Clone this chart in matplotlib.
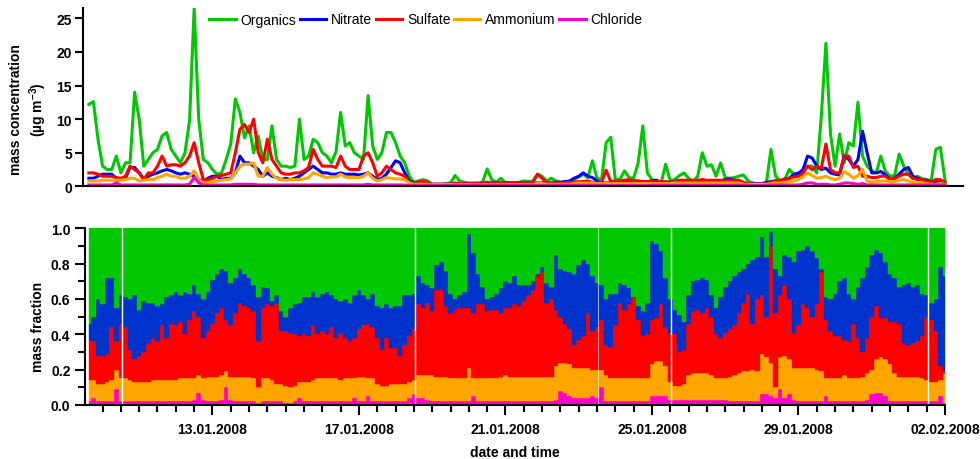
import numpy as np
import pandas as pd
import matplotlib
matplotlib.use("Agg")
import matplotlib.pyplot as plt
import matplotlib.dates as mdates
from matplotlib.ticker import MultipleLocator, FormatStrFormatter

plt.rcParams['font.family'] = ['Liberation Sans', 'DejaVu Sans']
plt.rcParams['font.weight'] = 'bold'
plt.rcParams['mathtext.default'] = 'regular'

# 3-hourly averages, first value 09.01.2008 15:00, last 02.02.2008 00:00
start = '2008-01-09 15:00'

# mass concentrations (ug/m3)
organics = [
    12.2, 12.6, 7.0, 3.0, 2.5, 2.5, 4.5, 2.0, 3.5, 3.5,
    14.0, 10.0, 3.0, 4.0, 5.0, 5.5, 7.5, 8.0, 5.5, 4.5,
    3.5, 5.0, 9.8, 26.5, 10.0, 4.0, 3.5, 2.5, 1.8, 2.0,
    4.0, 6.3, 13.0, 11.0, 7.2, 9.0, 5.0, 7.5, 4.0, 4.0,
    9.0, 4.0, 3.0, 3.0, 2.8, 3.0, 10.0, 4.0, 4.5, 7.0,
    6.5, 5.0, 4.5, 3.5, 5.2, 11.0, 6.0, 6.5, 5.0, 4.5,
    4.0, 13.5, 6.0, 4.0, 5.0, 8.0, 8.0, 6.5, 4.5, 3.5,
    1.5, 0.6, 0.8, 1.0, 0.8, 0.3, 0.3, 0.3, 0.4, 0.5,
    1.6, 0.8, 0.6, 0.5, 0.5, 0.5, 0.6, 2.6, 1.0, 0.6,
    1.2, 0.5, 0.5, 0.5, 0.6, 0.8, 0.7, 0.8, 1.8, 1.5,
    0.8, 1.2, 0.8, 0.6, 0.6, 0.7, 1.0, 1.4, 1.8, 1.3,
    3.8, 1.2, 1.0, 6.5, 7.3, 1.0, 1.0, 2.3, 1.3, 1.2,
    3.5, 9.0, 2.0, 1.0, 0.8, 0.5, 3.3, 0.8, 1.0, 1.6,
    2.0, 1.2, 0.7, 1.5, 5.0, 3.0, 3.2, 1.5, 3.5, 1.3,
    1.2, 1.3, 1.5, 1.7, 0.8, 0.5, 0.4, 0.3, 0.5, 5.5,
    1.5, 0.8, 1.0, 2.5, 1.8, 2.0, 2.0, 3.0, 3.0, 2.0,
    10.5, 21.3, 7.8, 3.0, 7.8, 3.5, 6.5, 6.0, 12.5, 4.5,
    3.0, 2.3, 2.0, 4.5, 2.2, 1.5, 1.6, 4.8, 3.0, 1.8,
    1.1, 1.5, 1.1, 1.0, 0.8, 5.5, 5.8, 1.0]
nitrate = [
    1.2, 1.2, 1.5, 1.8, 1.8, 1.8, 1.2, 1.0, 1.2, 2.8,
    2.8, 2.0, 1.0, 1.5, 1.8, 2.0, 2.3, 2.5, 2.3, 2.0,
    1.8, 2.0, 1.8, 1.5, 1.0, 0.8, 1.2, 1.5, 1.5, 1.0,
    1.2, 1.2, 2.0, 4.5, 3.5, 3.5, 3.0, 2.5, 1.5, 2.0,
    1.5, 1.3, 1.0, 1.2, 1.0, 1.2, 1.5, 2.0, 2.5, 3.0,
    2.5, 2.0, 2.0, 1.8, 1.8, 2.0, 1.8, 1.8, 1.8, 1.7,
    1.8, 2.0, 1.5, 1.0, 1.2, 1.8, 2.8, 3.8, 3.5, 2.0,
    0.8, 0.5, 0.5, 0.5, 0.4, 0.3, 0.3, 0.3, 0.3, 0.3,
    0.4, 0.4, 0.4, 0.4, 0.4, 0.4, 0.4, 0.4, 0.5, 0.5,
    0.5, 0.5, 0.5, 0.5, 0.5, 0.5, 0.5, 0.5, 0.5, 0.5,
    0.5, 0.5, 0.6, 0.6, 0.7, 0.8, 1.2, 1.5, 2.0, 1.5,
    1.3, 0.8, 0.5, 0.5, 0.5, 0.6, 0.6, 0.7, 0.7, 0.8,
    0.8, 0.7, 0.7, 0.8, 0.9, 0.6, 0.6, 0.6, 0.7, 0.8,
    0.8, 0.8, 0.8, 0.8, 0.8, 0.8, 0.8, 0.8, 0.8, 1.0,
    1.1, 0.9, 0.6, 0.4, 0.4, 0.4, 0.4, 0.4, 0.6, 0.7,
    0.8, 0.8, 0.8, 1.2, 1.8, 1.9, 2.5, 4.5, 4.2, 3.0,
    2.5, 2.7, 2.0, 1.8, 1.7, 4.5, 4.0, 3.0, 4.0, 8.2,
    5.0, 2.0, 2.0, 2.2, 1.7, 1.0, 1.2, 1.8, 2.5, 2.8,
    1.5, 1.2, 1.0, 0.9, 0.7, 0.6, 0.8, 0.6]
sulfate = [
    2.0, 2.0, 1.8, 1.5, 1.5, 1.5, 1.3, 1.2, 1.5, 3.0,
    2.5, 2.0, 1.0, 2.0, 2.0, 3.0, 4.5, 3.0, 3.2, 3.2,
    3.0, 3.5, 4.5, 6.5, 3.5, 1.0, 1.0, 1.2, 1.5, 1.6,
    1.8, 2.0, 5.0, 8.5, 9.2, 8.0, 10.0, 5.0, 3.5, 7.0,
    4.0, 3.0, 2.0, 1.8, 1.8, 2.0, 2.0, 2.3, 2.8, 5.5,
    4.0, 3.0, 3.0, 3.0, 2.8, 4.5, 3.0, 2.5, 2.5, 2.5,
    4.5, 5.0, 3.5, 1.5, 2.0, 3.0, 2.5, 2.0, 1.8, 1.5,
    0.6, 0.4, 0.7, 0.7, 0.6, 0.3, 0.3, 0.3, 0.3, 0.3,
    0.5, 0.4, 0.4, 0.4, 0.4, 0.4, 0.5, 0.6, 0.5, 0.5,
    0.5, 0.5, 0.5, 0.5, 0.5, 0.5, 0.5, 0.6, 1.8, 1.2,
    0.5, 0.5, 0.5, 0.5, 0.5, 0.6, 0.6, 0.7, 0.7, 0.8,
    0.6, 0.5, 0.6, 2.4, 0.7, 0.8, 0.8, 0.9, 1.0, 0.8,
    0.7, 0.7, 0.7, 0.7, 0.7, 0.7, 0.7, 0.5, 0.8, 0.9,
    0.9, 0.9, 0.9, 0.9, 1.0, 0.9, 0.9, 0.9, 0.9, 0.9,
    0.9, 0.9, 0.9, 0.6, 0.4, 0.3, 0.3, 0.3, 0.4, 0.6,
    0.8, 0.9, 1.1, 1.2, 1.4, 1.5, 2.0, 3.0, 2.5, 3.0,
    2.7, 6.3, 2.5, 2.0, 2.0, 4.5, 4.5, 2.8, 3.0, 1.5,
    1.5, 1.3, 1.3, 1.5, 1.5, 1.0, 1.2, 1.5, 1.8, 1.8,
    1.2, 1.0, 1.0, 0.8, 0.6, 1.0, 1.0, 0.5]
ammonium = [
    0.8, 0.8, 0.8, 0.9, 0.9, 0.9, 0.9, 0.9, 1.0, 1.2,
    1.2, 0.8, 0.9, 1.0, 1.0, 1.3, 1.5, 1.8, 1.5, 1.5,
    1.2, 1.2, 1.5, 2.3, 1.0, 0.5, 0.6, 0.7, 0.8, 0.9,
    1.0, 1.1, 2.0, 3.0, 3.3, 3.3, 3.5, 1.5, 1.5, 2.8,
    1.8, 1.2, 1.0, 0.9, 1.0, 1.0, 1.0, 1.1, 1.3, 2.0,
    1.8, 1.5, 1.3, 1.4, 1.4, 1.8, 1.4, 1.3, 1.3, 1.3,
    1.5, 2.0, 1.2, 0.8, 1.0, 1.3, 1.2, 1.1, 1.1, 1.0,
    0.5, 0.3, 0.3, 0.3, 0.3, 0.25, 0.25, 0.25, 0.25, 0.25,
    0.25, 0.25, 0.25, 0.25, 0.25, 0.25, 0.25, 0.25, 0.25, 0.25,
    0.25, 0.25, 0.25, 0.25, 0.25, 0.25, 0.25, 0.25, 0.45, 0.4,
    0.3, 0.3, 0.3, 0.3, 0.3, 0.3, 0.4, 0.5, 0.5, 0.5,
    0.5, 0.4, 0.4, 0.4, 0.4, 0.4, 0.4, 0.4, 0.4, 0.4,
    0.4, 0.4, 0.4, 0.4, 0.4, 0.4, 0.4, 0.4, 0.5, 0.5,
    0.5, 0.5, 0.5, 0.5, 0.5, 0.5, 0.5, 0.5, 0.5, 0.5,
    0.5, 0.5, 0.5, 0.3, 0.3, 0.3, 0.3, 0.3, 0.3, 0.4,
    0.5, 0.5, 0.6, 0.7, 0.8, 1.0, 1.4, 2.0, 1.6, 1.2,
    1.3, 1.5, 1.2, 1.0, 1.2, 2.2, 1.8, 1.2, 1.6, 2.5,
    0.8, 0.6, 0.7, 0.8, 0.8, 0.7, 0.7, 0.9, 1.0, 0.8,
    0.6, 0.5, 0.5, 0.4, 0.3, 0.3, 0.4, 0.3]
chloride = [
    0.2, 0.2, 0.2, 0.2, 0.2, 0.2, 0.5, 0.2, 0.2, 0.2,
    0.2, 0.2, 0.2, 0.2, 0.2, 0.2, 0.2, 0.2, 0.2, 0.2,
    0.2, 0.2, 0.3, 1.3, 0.5, 0.2, 0.2, 0.2, 0.2, 0.2,
    0.2, 0.2, 0.3, 0.3, 0.3, 0.3, 0.3, 0.2, 0.2, 0.2,
    0.2, 0.2, 0.2, 0.2, 0.2, 0.2, 0.2, 0.2, 0.2, 0.2,
    0.2, 0.2, 0.2, 0.2, 0.2, 0.2, 0.2, 0.2, 0.2, 0.2,
    0.2, 0.3, 0.2, 0.2, 0.2, 0.2, 0.2, 0.2, 0.2, 0.2,
    0.1, 0.1, 0.1, 0.1, 0.1, 0.1, 0.1, 0.1, 0.1, 0.1,
    0.1, 0.1, 0.1, 0.1, 0.1, 0.1, 0.1, 0.1, 0.1, 0.1,
    0.1, 0.1, 0.1, 0.1, 0.1, 0.1, 0.1, 0.1, 0.1, 0.1,
    0.1, 0.1, 0.1, 0.15, 0.15, 0.15, 0.15, 0.15, 0.15, 0.15,
    0.15, 0.15, 0.15, 0.1, 0.1, 0.1, 0.1, 0.1, 0.1, 0.1,
    0.1, 0.1, 0.1, 0.15, 0.15, 0.15, 0.15, 0.15, 0.15, 0.15,
    0.15, 0.15, 0.15, 0.15, 0.15, 0.15, 0.15, 0.15, 0.15, 0.15,
    0.15, 0.15, 0.15, 0.1, 0.1, 0.1, 0.1, 0.1, 0.1, 0.2,
    0.2, 0.2, 0.2, 0.2, 0.2, 0.2, 0.3, 0.5, 0.5, 0.3,
    0.3, 0.3, 0.2, 0.2, 0.3, 0.5, 0.5, 0.4, 0.3, 0.4,
    0.2, 0.2, 0.2, 0.2, 0.2, 0.2, 0.2, 0.2, 0.2, 0.2,
    0.2, 0.2, 0.2, 0.2, 0.2, 0.2, 0.2, 0.2]

# cumulative mass fractions, stacked from the bottom:
# chloride, + ammonium, + sulfate, + nitrate (organics make up the rest to 1)
cum_chloride = [
    0.02, 0.04, 0.02, 0.02, 0.02, 0.02, 0.09, 0.02, 0.02, 0.02,
    0.02, 0.02, 0.02, 0.02, 0.02, 0.02, 0.02, 0.02, 0.02, 0.02,
    0.02, 0.02, 0.02, 0.03, 0.07, 0.03, 0.02, 0.02, 0.02, 0.03,
    0.10, 0.03, 0.02, 0.02, 0.02, 0.02, 0.02, 0.01, 0.02, 0.02,
    0.02, 0.02, 0.02, 0.01, 0.01, 0.02, 0.04, 0.02, 0.02, 0.02,
    0.02, 0.02, 0.02, 0.02, 0.02, 0.02, 0.02, 0.02, 0.04, 0.02,
    0.02, 0.05, 0.02, 0.02, 0.02, 0.02, 0.02, 0.02, 0.02, 0.02,
    0.04, 0.06, 0.04, 0.04, 0.03, 0.02, 0.02, 0.02, 0.02, 0.02,
    0.02, 0.02, 0.02, 0.02, 0.05, 0.02, 0.02, 0.02, 0.02, 0.02,
    0.02, 0.02, 0.02, 0.02, 0.02, 0.02, 0.02, 0.02, 0.02, 0.02,
    0.02, 0.02, 0.03, 0.08, 0.07, 0.05, 0.04, 0.04, 0.04, 0.04,
    0.05, 0.04, 0.10, 0.02, 0.02, 0.02, 0.02, 0.02, 0.02, 0.02,
    0.02, 0.02, 0.02, 0.05, 0.05, 0.05, 0.05, 0.03, 0.03, 0.03,
    0.03, 0.03, 0.03, 0.03, 0.03, 0.03, 0.03, 0.03, 0.03, 0.03,
    0.02, 0.02, 0.02, 0.02, 0.02, 0.02, 0.02, 0.06, 0.06, 0.05,
    0.04, 0.09, 0.04, 0.06, 0.03, 0.02, 0.02, 0.02, 0.02, 0.02,
    0.02, 0.05, 0.02, 0.02, 0.02, 0.02, 0.02, 0.02, 0.02, 0.02,
    0.03, 0.06, 0.07, 0.07, 0.05, 0.02, 0.02, 0.02, 0.02, 0.02,
    0.02, 0.02, 0.02, 0.02, 0.02, 0.02, 0.05, 0.01]
cum_ammonium = [
    0.14, 0.14, 0.12, 0.12, 0.13, 0.14, 0.20, 0.15, 0.15, 0.14,
    0.13, 0.13, 0.13, 0.13, 0.14, 0.14, 0.14, 0.14, 0.14, 0.14,
    0.15, 0.15, 0.15, 0.15, 0.17, 0.15, 0.16, 0.16, 0.16, 0.17,
    0.19, 0.16, 0.16, 0.16, 0.16, 0.16, 0.15, 0.10, 0.15, 0.15,
    0.14, 0.12, 0.12, 0.11, 0.10, 0.11, 0.13, 0.13, 0.13, 0.14,
    0.15, 0.15, 0.15, 0.15, 0.15, 0.14, 0.15, 0.15, 0.15, 0.16,
    0.16, 0.15, 0.15, 0.12, 0.11, 0.11, 0.12, 0.12, 0.12, 0.12,
    0.13, 0.14, 0.17, 0.17, 0.17, 0.17, 0.16, 0.16, 0.16, 0.15,
    0.15, 0.15, 0.15, 0.21, 0.15, 0.15, 0.15, 0.15, 0.15, 0.15,
    0.16, 0.17, 0.16, 0.16, 0.16, 0.16, 0.16, 0.16, 0.16, 0.16,
    0.16, 0.16, 0.22, 0.24, 0.24, 0.23, 0.21, 0.21, 0.21, 0.21,
    0.20, 0.20, 0.20, 0.17, 0.15, 0.15, 0.15, 0.15, 0.15, 0.15,
    0.15, 0.15, 0.15, 0.23, 0.25, 0.25, 0.22, 0.13, 0.11, 0.11,
    0.12, 0.17, 0.18, 0.18, 0.18, 0.18, 0.17, 0.15, 0.15, 0.15,
    0.16, 0.17, 0.18, 0.19, 0.19, 0.20, 0.19, 0.29, 0.27, 0.24,
    0.10, 0.27, 0.28, 0.26, 0.21, 0.21, 0.21, 0.21, 0.21, 0.20,
    0.19, 0.15, 0.15, 0.15, 0.15, 0.17, 0.15, 0.15, 0.15, 0.16,
    0.18, 0.20, 0.26, 0.27, 0.26, 0.23, 0.18, 0.16, 0.16, 0.16,
    0.16, 0.16, 0.15, 0.14, 0.13, 0.13, 0.14, 0.18]
cum_sulfate = [
    0.37, 0.36, 0.28, 0.28, 0.29, 0.44, 0.36, 0.46, 0.44, 0.31,
    0.26, 0.28, 0.30, 0.35, 0.38, 0.36, 0.45, 0.38, 0.46, 0.45,
    0.47, 0.40, 0.48, 0.53, 0.50, 0.38, 0.42, 0.46, 0.52, 0.55,
    0.48, 0.45, 0.52, 0.58, 0.56, 0.55, 0.53, 0.36, 0.55, 0.57,
    0.56, 0.58, 0.42, 0.42, 0.41, 0.40, 0.39, 0.40, 0.39, 0.45,
    0.40, 0.42, 0.40, 0.44, 0.38, 0.41, 0.38, 0.36, 0.38, 0.43,
    0.45, 0.46, 0.44, 0.38, 0.31, 0.38, 0.32, 0.32, 0.28, 0.34,
    0.39, 0.43, 0.57, 0.55, 0.58, 0.53, 0.65, 0.65, 0.56, 0.52,
    0.54, 0.55, 0.55, 0.55, 0.52, 0.57, 0.57, 0.53, 0.54, 0.54,
    0.52, 0.55, 0.55, 0.57, 0.56, 0.59, 0.62, 0.65, 0.73, 0.76,
    0.58, 0.60, 0.54, 0.50, 0.46, 0.43, 0.34, 0.37, 0.39, 0.52,
    0.42, 0.44, 0.48, 0.34, 0.33, 0.45, 0.58, 0.54, 0.57, 0.61,
    0.48, 0.39, 0.40, 0.48, 0.49, 0.57, 0.44, 0.41, 0.40, 0.30,
    0.31, 0.46, 0.53, 0.54, 0.52, 0.55, 0.50, 0.40, 0.38, 0.41,
    0.43, 0.45, 0.52, 0.58, 0.63, 0.46, 0.60, 0.62, 0.50, 0.90,
    0.52, 0.62, 0.68, 0.60, 0.41, 0.45, 0.57, 0.55, 0.50, 0.57,
    0.75, 0.48, 0.42, 0.39, 0.39, 0.37, 0.36, 0.46, 0.38, 0.30,
    0.38, 0.50, 0.56, 0.49, 0.49, 0.47, 0.47, 0.46, 0.35, 0.34,
    0.35, 0.36, 0.39, 0.50, 0.48, 0.42, 0.22, 0.19]
cum_nitrate = [
    0.46, 0.50, 0.60, 0.57, 0.72, 0.72, 0.55, 0.62, 0.61, 0.60,
    0.62, 0.54, 0.59, 0.58, 0.58, 0.56, 0.57, 0.61, 0.62, 0.64,
    0.62, 0.64, 0.63, 0.68, 0.63, 0.60, 0.64, 0.71, 0.74, 0.77,
    0.76, 0.69, 0.72, 0.77, 0.74, 0.72, 0.68, 0.61, 0.67, 0.66,
    0.59, 0.62, 0.53, 0.50, 0.55, 0.57, 0.58, 0.61, 0.61, 0.64,
    0.61, 0.63, 0.64, 0.62, 0.60, 0.59, 0.60, 0.58, 0.62, 0.65,
    0.62, 0.60, 0.63, 0.56, 0.55, 0.57, 0.55, 0.56, 0.56, 0.62,
    0.62, 0.63, 0.73, 0.69, 0.68, 0.66, 0.79, 0.81, 0.76, 0.63,
    0.60, 0.62, 0.64, 0.97, 0.86, 0.74, 0.67, 0.60, 0.61, 0.63,
    0.66, 0.70, 0.69, 0.73, 0.68, 0.68, 0.68, 0.70, 0.74, 0.78,
    0.69, 0.67, 0.85, 0.77, 0.76, 0.75, 0.74, 0.79, 0.82, 0.80,
    0.73, 0.69, 0.68, 0.60, 0.63, 0.63, 0.69, 0.68, 0.66, 0.61,
    0.56, 0.53, 0.58, 0.93, 0.91, 0.87, 0.72, 0.60, 0.54, 0.51,
    0.47, 0.62, 0.70, 0.71, 0.72, 0.71, 0.62, 0.55, 0.61, 0.67,
    0.70, 0.73, 0.75, 0.77, 0.80, 0.82, 0.84, 0.95, 0.84, 0.98,
    0.77, 0.73, 0.85, 0.84, 0.81, 0.87, 0.88, 0.90, 0.87, 0.83,
    0.77, 0.61, 0.60, 0.63, 0.70, 0.72, 0.63, 0.60, 0.67, 0.72,
    0.78, 0.85, 0.88, 0.86, 0.81, 0.74, 0.72, 0.67, 0.68, 0.69,
    0.67, 0.68, 0.63, 0.62, 0.58, 0.60, 0.78, 0.73]

# instrument calibration breaks
gaps = ['2008-01-10 12:45', '2008-01-18 12:45', '2008-01-25 12:45', '2008-02-01 12:45']
faint_gaps = ['2008-01-23 12:45']

species = ['Organics', 'Nitrate', 'Sulfate', 'Ammonium', 'Chloride']
major_days = ['2008-01-13', '2008-01-17', '2008-01-21', '2008-01-25', '2008-01-29', '2008-02-02']

c_org = '#00C800'
c_no3_line = '#0000FF'
c_no3_fill = '#0033CC'
c_so4 = '#FF0000'
c_nh4 = '#FFA500'
c_chl = '#FF00CC'

t = pd.date_range(start, periods=len(organics), freq='3h')

fig = plt.figure(figsize=(9.8, 4.6), dpi=100)
W, H = 980.0, 460.0
ax1 = fig.add_axes([83 / W, 1 - 187.3 / H, 880 / W, 178 / H])
ax2 = fig.add_axes([85 / W, 1 - 406 / H, 860 / W, 176.7 / H])

# ---- top: concentrations
lines = []
for vals, col in zip([organics, nitrate, sulfate, ammonium, chloride],
                     [c_org, c_no3_line, c_so4, c_nh4, c_chl]):
    ln, = ax1.plot(t, vals, color=col, lw=2.2)
    lines.append(ln)

ax1.set_xlim(pd.Timestamp('2008-01-09 11:10'), pd.Timestamp('2008-02-02 11:50'))
ax1.set_ylim(0, 26.5)
ax1.set_yticks([0, 5, 10, 15, 20, 25])
ax1.tick_params(axis='x', which='both', length=0, labelbottom=False)
ax1.tick_params(axis='y', length=5.5, width=1.5, pad=2.5, labelsize=10)
for s in ['top', 'right']:
    ax1.spines[s].set_visible(False)
for s in ['left', 'bottom']:
    ax1.spines[s].set_linewidth(1.5)

# ---- bottom: stacked mass fractions
lower = np.zeros(len(t))
bounds = [cum_chloride, cum_ammonium, cum_sulfate, cum_nitrate, np.ones(len(t))]
for upper, col in zip(bounds, [c_chl, c_nh4, c_so4, c_no3_fill, c_org]):
    upper = np.asarray(upper, dtype=float)
    ax2.fill_between(t, lower, upper, step='mid', facecolor=col,
                     edgecolor=col, lw=0.3)
    lower = upper

for g in gaps:
    ax2.axvline(pd.Timestamp(g), color='white', lw=1.0)
for g in faint_gaps:
    ax2.axvline(pd.Timestamp(g), color='white', lw=0.8, alpha=0.6)

ax2.set_xlim(pd.Timestamp('2008-01-09 12:30'), pd.Timestamp('2008-02-02 00:00'))
ax2.set_ylim(0, 1)
ax2.yaxis.set_major_locator(MultipleLocator(0.2))
ax2.yaxis.set_minor_locator(MultipleLocator(0.1))
ax2.yaxis.set_major_formatter(FormatStrFormatter('%.1f'))
ax2.set_xticks(mdates.date2num(pd.to_datetime(major_days)))
ax2.xaxis.set_major_formatter(mdates.DateFormatter('%d.%m.%Y'))
ax2.xaxis.set_minor_locator(mdates.HourLocator(byhour=[0, 12]))
ax2.tick_params(which='major', length=7.5, width=1.5, labelsize=10)
ax2.tick_params(which='minor', length=5, width=1.5)
ax2.tick_params(axis='y', pad=3)
ax2.tick_params(axis='x', pad=5)
for s in ['top', 'right']:
    ax2.spines[s].set_visible(False)
for s in ['left', 'bottom']:
    ax2.spines[s].set_linewidth(1.5)

# ---- labels and legend
fig.text(29 / W, 1 - 110 / H, 'mass concentration\n(µg m$^{-3}$)', rotation=90,
         ha='center', va='center', fontsize=10, fontweight='bold',
         multialignment='center', linespacing=1.3)
fig.text(38 / W, 1 - 327 / H, 'mass fraction', rotation=90,
         ha='center', va='center', fontsize=10, fontweight='bold')
fig.text(515 / W, 1 - 453 / H, 'date and time', ha='center', va='center',
         fontsize=10, fontweight='bold')

fig.legend(lines, species, loc='center', bbox_to_anchor=(426 / W, 1 - 20.5 / H),
           ncol=5, frameon=False, handlelength=1.9, handletextpad=0.35,
           columnspacing=0.25, borderpad=0, prop={'weight': 'normal', 'size': 10})

fig.savefig('out.png', dpi=100)
